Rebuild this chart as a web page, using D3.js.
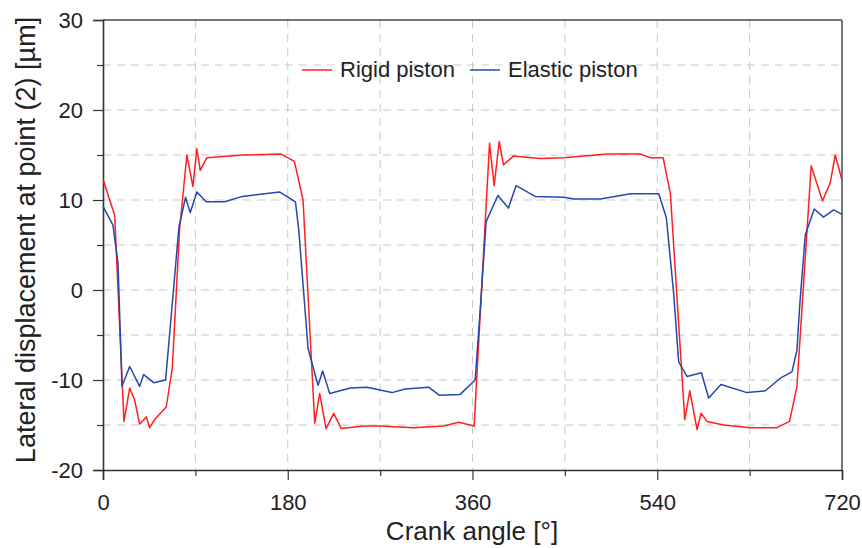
<!DOCTYPE html>
<html>
<head>
<meta charset="utf-8">
<script src="https://cdn.jsdelivr.net/npm/d3@7"></script>
<style>
  body { margin: 0; background: #fff; }
  svg { display: block; font-family: "Liberation Sans", Arial, sans-serif; }
</style>
</head>
<body>
<div id="chart"></div>
<script>
const width = 862;
const height = 548;
const margin = { top: 20, left: 103, bottom: 78, right: 20 };
const iwidth = width - margin.left - margin.right;
const iheight = height - margin.top - margin.bottom;

// crank angle [deg] / displacement [um]
const rigidAngle = [0, 11.4, 20.4, 26, 30.8, 35.7, 42.2, 45.4, 50.3, 61.6, 67.5, 74.6, 81.7, 87.6, 91.5, 94.7, 101.2, 136, 173.5, 186.5, 194.9, 206.3, 211.1, 217.3, 224.8, 232.2, 254, 270.2, 302.6, 331.8, 346.4, 361.6, 376.6, 381.1, 386, 390.2, 400, 425.9, 449, 491.2, 523.6, 533.4, 545.7, 552.8, 566.8, 571.7, 578.8, 582.7, 588.5, 604.7, 630.7, 656.6, 668.9, 676.1, 690, 701, 708.5, 713.4, 720];
const rigidValue = [12.3, 8.3, -14.6, -10.9, -12.2, -14.9, -14.1, -15.3, -14.4, -13.0, -8.7, 6.7, 15, 11.5, 15.7, 13.3, 14.7, 15, 15.1, 14.3, 10, -14.8, -11.5, -15.4, -13.7, -15.4, -15.1, -15.1, -15.3, -15.1, -14.7, -15.1, 16.3, 11.6, 16.5, 13.9, 14.9, 14.6, 14.7, 15.1, 15.1, 14.7, 14.7, 10.7, -14.4, -11.2, -15.5, -13.7, -14.6, -15, -15.3, -15.3, -14.6, -10.7, 13.8, 9.9, 11.9, 15, 12.2];

const elasticAngle = [0, 9.7, 14.6, 18.5, 26, 35.7, 39.6, 49.3, 61, 74, 80.4, 85, 91.5, 100.5, 118.4, 136, 172, 187.5, 190.7, 199.8, 209.5, 214, 220.9, 241, 257.2, 281.5, 294.5, 317.2, 327.9, 348, 362.6, 367.5, 373.3, 384.7, 395, 402.5, 421, 449, 458.8, 484.7, 513.9, 541.5, 548.9, 556, 560.9, 569, 583, 590.1, 602.1, 627.4, 645.3, 659.9, 671.2, 676.1, 678.7, 684.2, 693, 702, 711.8, 720];
const elasticValue = [9.3, 7.2, 3, -10.7, -8.5, -10.7, -9.4, -10.3, -10, 7, 10.3, 8.6, 10.9, 9.8, 9.8, 10.4, 10.9, 9.8, 6.7, -6.5, -10.6, -9, -11.5, -10.9, -10.8, -11.4, -11, -10.8, -11.7, -11.6, -10, -2.2, 7.6, 10.5, 9.1, 11.6, 10.4, 10.3, 10.1, 10.1, 10.7, 10.7, 8, -0.4, -8, -9.6, -9.2, -12, -10.5, -11.4, -11.2, -9.8, -9.1, -6.7, -1.9, 6.1, 9, 8.1, 8.9, 8.4];

const xTicks = [0, 180, 360, 540, 720];
const xMinor = [90, 270, 450, 630];
const yTicks = [-20, -10, 0, 10, 20, 30];
const yMinor = [-15, -5, 5, 15, 25];

const rigid = rigidAngle.map((a, i) => ({ a: a, v: rigidValue[i] }));
const elastic = elasticAngle.map((a, i) => ({ a: a, v: elasticValue[i] }));

const svg = d3.select("#chart").append("svg")
  .attr("width", width)
  .attr("height", height);

const g = svg.append("g")
  .attr("transform", `translate(${margin.left},${margin.top})`);

const x = d3.scaleLinear().domain([0, 720]).range([0, iwidth]);
const y = d3.scaleLinear().domain([-20, 30]).range([iheight, 0]);

// dashed grid
g.append("g").selectAll("line")
  .data(xTicks.concat(xMinor).filter((d) => d > 0 && d < 720))
  .enter().append("line")
  .attr("x1", (d) => x(d)).attr("x2", (d) => x(d))
  .attr("y1", 0).attr("y2", iheight)
  .attr("stroke", "#c8c8c8").attr("stroke-width", 1)
  .attr("stroke-dasharray", "8,6");

g.append("g").selectAll("line")
  .data(yTicks.concat(yMinor).filter((d) => d > -20 && d < 30))
  .enter().append("line")
  .attr("x1", 0).attr("x2", iwidth)
  .attr("y1", (d) => y(d)).attr("y2", (d) => y(d))
  .attr("stroke", "#c8c8c8").attr("stroke-width", 1)
  .attr("stroke-dasharray", "8,6");

// frame top/right
g.append("line").attr("x1", 0).attr("x2", iwidth).attr("y1", 0).attr("y2", 0)
  .attr("stroke", "#444").attr("stroke-width", 1.5);
g.append("line").attr("x1", iwidth).attr("x2", iwidth).attr("y1", 0).attr("y2", iheight)
  .attr("stroke", "#777").attr("stroke-width", 2);

const fmt = (d) => String(d); // plain hyphen minus like the original

// axes
g.append("g")
  .attr("transform", `translate(0, ${iheight})`)
  .call(d3.axisBottom(x).tickValues(xTicks).tickSize(10).tickPadding(14).tickFormat(fmt));
g.append("g")
  .attr("transform", `translate(0, ${iheight})`)
  .call(d3.axisBottom(x).tickValues(xMinor).tickSize(6).tickFormat(""))
  .call((a) => a.select(".domain").remove());

g.append("g")
  .call(d3.axisLeft(y).tickValues(yTicks).tickSize(10).tickPadding(10).tickFormat(fmt));
g.append("g")
  .call(d3.axisLeft(y).tickValues(yMinor).tickSize(6).tickFormat(""))
  .call((a) => a.select(".domain").remove());

svg.selectAll(".domain").attr("stroke", "#333").attr("stroke-width", 1.6);
svg.selectAll(".tick line").attr("stroke", "#333").attr("stroke-width", 1.2);
svg.selectAll(".tick text")
  .attr("fill", "#222")
  .style("font-size", "22px")
  .style("font-family", "'Liberation Sans', Arial, sans-serif");

// lines
const line = d3.line().x((d) => x(d.a)).y((d) => y(d.v));

g.append("path").datum(rigid)
  .attr("fill", "none").attr("stroke", "#ff2020").attr("stroke-width", 1.5)
  .attr("stroke-linejoin", "round")
  .attr("d", line);

g.append("path").datum(elastic)
  .attr("fill", "none").attr("stroke", "#2448b0").attr("stroke-width", 1.5)
  .attr("stroke-linejoin", "round")
  .attr("d", line);

// legend
const legend = svg.append("g");
legend.append("line").attr("x1", 302).attr("x2", 332).attr("y1", 70).attr("y2", 70)
  .attr("stroke", "#ff2020").attr("stroke-width", 1.5);
legend.append("text").attr("x", 340).attr("y", 77).text("Rigid piston")
  .style("font-size", "22px").attr("fill", "#222");
legend.append("line").attr("x1", 470).attr("x2", 500).attr("y1", 70).attr("y2", 70)
  .attr("stroke", "#2448b0").attr("stroke-width", 1.5);
legend.append("text").attr("x", 508).attr("y", 77).text("Elastic piston")
  .style("font-size", "22px").attr("fill", "#222");

// axis titles
svg.append("text")
  .attr("x", 472).attr("y", 540)
  .attr("text-anchor", "middle")
  .style("font-size", "26px").attr("fill", "#222")
  .text("Crank angle [°]");

svg.append("text")
  .attr("transform", "translate(35, 240) rotate(-90)")
  .attr("text-anchor", "middle")
  .style("font-size", "27px").attr("fill", "#222")
  .text("Lateral displacement at point (2) [µm]");
</script>
</body>
</html>
